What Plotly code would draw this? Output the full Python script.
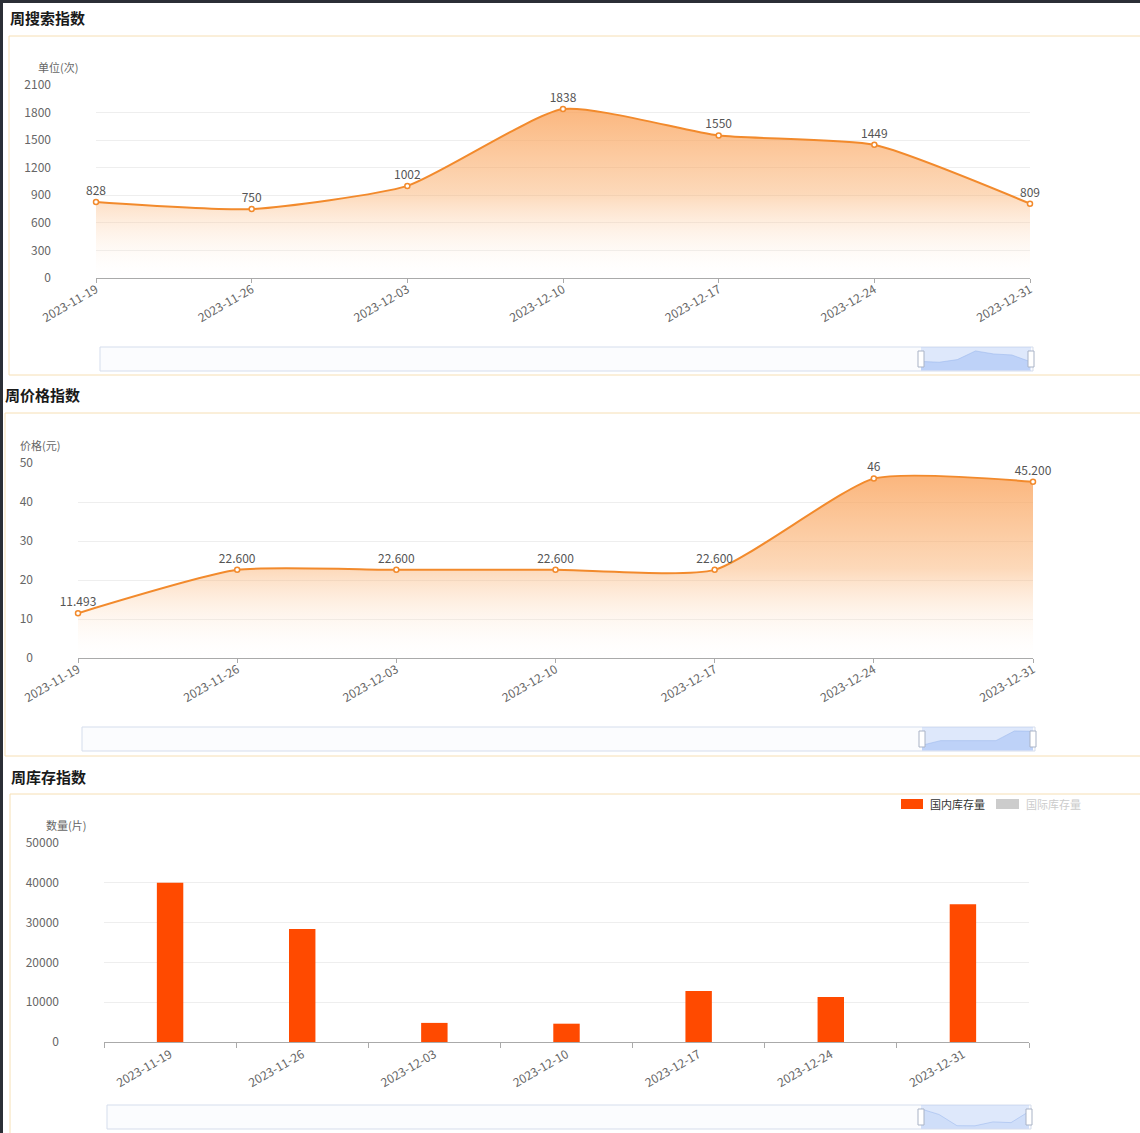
import plotly.graph_objects as go

W, H = 1140, 1133

dates = ["2023-11-19", "2023-11-26", "2023-12-03", "2023-12-10",
         "2023-12-17", "2023-12-24", "2023-12-31"]
search_values = [828, 750, 1002, 1838, 1550, 1449, 809]
search_labels = ["828", "750", "1002", "1838", "1550", "1449", "809"]
price_values = [11.493, 22.6, 22.6, 22.6, 22.6, 46, 45.2]
price_labels = ["11.493", "22.600", "22.600", "22.600", "22.600", "46", "45.200"]
domestic_stock = [40000, 28400, 4800, 4600, 12800, 11300, 34600]

titles = ["周搜索指数", "周价格指数", "周库存指数"]
y_titles = ["单位(次)", "价格(元)", "数量(片)"]
legend_names = ["国内库存量", "国际库存量"]

LINE = "#f28a2c"
BAR = "#ff4a00"
FONT = "Noto Sans CJK SC, Noto Sans, sans-serif"
SMOOTH = 0.55


def px(x):
    return x / W


def py(y):
    return 1 - y / H


fig = go.Figure()

fill_scale = [[0, "rgba(255,255,255,0.05)"], [0.5, "rgba(250,170,100,0.45)"],
              [1, "rgba(250,165,95,0.8)"]]

# ---------- chart 1: search ----------
fig.add_trace(go.Scatter(
    x=dates, y=search_values, text=search_labels, mode="lines+markers+text",
    textposition="top center", textfont=dict(size=12, color="#555", family=FONT),
    line=dict(color=LINE, width=2, shape="spline", smoothing=SMOOTH),
    marker=dict(size=5, color="white", line=dict(color=LINE, width=1.5)),
    fill="tozeroy",
    fillgradient=dict(type="vertical", start=0, stop=max(search_values), colorscale=fill_scale),
    cliponaxis=False, xaxis="x", yaxis="y", showlegend=False, hoverinfo="x+y"))

# ---------- chart 2: price ----------
fig.add_trace(go.Scatter(
    x=dates, y=price_values, text=price_labels, mode="lines+markers+text",
    textposition="top center", textfont=dict(size=12, color="#555", family=FONT),
    line=dict(color=LINE, width=2, shape="spline", smoothing=SMOOTH),
    marker=dict(size=5, color="white", line=dict(color=LINE, width=1.5)),
    fill="tozeroy",
    fillgradient=dict(type="vertical", start=0, stop=max(price_values), colorscale=fill_scale),
    cliponaxis=False, xaxis="x2", yaxis="y2", showlegend=False, hoverinfo="x+y"))

# ---------- chart 3: stock bars ----------
fig.add_trace(go.Bar(
    x=dates, y=domestic_stock, marker=dict(color=BAR, line=dict(width=0)),
    width=0.2, xaxis="x3", yaxis="y3", showlegend=False, name=legend_names[0]))

# ---------- datazoom minis ----------
mini_specs = [
    (search_values, "x4", "y4", 0.45),
    (price_values, "x5", "y5", 0.45),
    (domestic_stock, "x6", "y6", 0.2),
]
for vals, xa, ya, op in mini_specs:
    fig.add_trace(go.Scatter(
        x=dates, y=vals, mode="lines", fill="tozeroy",
        line=dict(color="rgba(150,180,235,0.5)", width=1),
        fillcolor="rgba(150,185,245,%s)" % op,
        xaxis=xa, yaxis=ya, showlegend=False, hoverinfo="skip"))

tickfont = dict(size=12, color="#666", family=FONT)


def xcat(domain, anchor, rng, boundaries=False, standoff=0):
    d = dict(domain=domain, anchor=anchor, type="category", range=rng,
             showgrid=False, showline=True, linecolor="#aaa", linewidth=1,
             ticks="outside", ticklen=4, tickcolor="#aaa", tickangle=-30,
             tickfont=tickfont, zeroline=False, fixedrange=True, automargin=False,
             ticklabelstandoff=standoff)
    if boundaries:
        d["tickson"] = "boundaries"
        d["ticklen"] = 5
    return d


def yval(domain, anchor, rng, dtick, standoff):
    return dict(domain=domain, anchor=anchor, range=rng, dtick=dtick, tickformat="d",
                showgrid=True, gridcolor="#eeeeee", gridwidth=1,
                showline=False, zeroline=False, tickfont=tickfont, ticks="",
                ticklabelstandoff=standoff, fixedrange=True, automargin=False)


def mini_x(domain, anchor):
    return dict(domain=domain, anchor=anchor, type="category", range=[0, 6],
                visible=False, fixedrange=True, automargin=False)


def mini_y(domain, anchor, rng):
    return dict(domain=domain, anchor=anchor, range=rng, visible=False,
                fixedrange=True, automargin=False)


layout = dict(
    template="none",
    width=W, height=H, margin=dict(l=0, r=0, t=0, b=0, pad=0, autoexpand=False),
    paper_bgcolor="white", plot_bgcolor="rgba(0,0,0,0)",
    font=dict(family=FONT, color="#555"),
    showlegend=False,
    xaxis=xcat([px(96), px(1030)], "y", [0, 6], standoff=-5),
    yaxis=yval([py(278), py(85)], "x", [0, 2100], 300, 44),
    xaxis2=xcat([px(78), px(1033)], "y2", [0, 6], standoff=-5),
    yaxis2=yval([py(658), py(463)], "x2", [0, 50], 10, 44),
    xaxis3=xcat([px(104), px(1029)], "y3", [-0.5, 6.5], boundaries=True),
    yaxis3=yval([py(1042), py(843)], "x3", [0, 50000], 10000, 44),
    xaxis4=mini_x([px(921), px(1030)], "y4"),
    yaxis4=mini_y([py(370), py(350)], "x4", [0, max(search_values) * 1.05]),
    xaxis5=mini_x([px(922), px(1033)], "y5"),
    yaxis5=mini_y([py(750), py(730)], "x5", [0, max(price_values) * 1.05]),
    xaxis6=mini_x([px(921), px(1029)], "y6"),
    yaxis6=mini_y([py(1128), py(1108)], "x6", [0, max(domestic_stock) * 1.05]),
)
fig.update_layout(**layout)

shapes = []
# dark page edges
shapes.append(dict(type="rect", xref="paper", yref="paper", x0=0, x1=px(3), y0=0, y1=1,
                   fillcolor="#2b2f36", line=dict(width=0), layer="above"))
shapes.append(dict(type="rect", xref="paper", yref="paper", x0=0, x1=1, y0=py(3), y1=1,
                   fillcolor="#2b2f36", line=dict(width=0), layer="above"))
# panel borders
for x0, y0, y1 in [(9, 36, 375), (5, 413, 756), (10, 794, 1140)]:
    shapes.append(dict(type="rect", xref="paper", yref="paper",
                       x0=px(x0), x1=px(1145), y0=py(y1), y1=py(y0),
                       line=dict(color="#f6dfb4", width=1), fillcolor="rgba(0,0,0,0)",
                       layer="below"))
# datazoom boxes
for x0, x1, y0, y1, w0 in [(100, 1033, 347, 371, 921), (82, 1035, 727, 751, 922),
                           (107, 1031, 1105, 1129, 921)]:
    shapes.append(dict(type="rect", xref="paper", yref="paper",
                       x0=px(x0), x1=px(x1), y0=py(y1), y1=py(y0),
                       line=dict(color="#d5ddec", width=1), fillcolor="#fbfcfe",
                       layer="below"))
    shapes.append(dict(type="rect", xref="paper", yref="paper",
                       x0=px(w0), x1=px(x1 - 2), y0=py(y1), y1=py(y0),
                       line=dict(width=0), fillcolor="rgba(170,195,245,0.35)",
                       layer="below"))
    cy = (y0 + y1) / 2
    for hx in (w0, x1 - 2):
        shapes.append(dict(type="rect", xref="paper", yref="paper",
                           x0=px(hx - 3), x1=px(hx + 3), y0=py(cy + 8), y1=py(cy - 8),
                           line=dict(color="#a9b3c6", width=1), fillcolor="white",
                           layer="above"))
# legend swatches
shapes.append(dict(type="rect", xref="paper", yref="paper", x0=px(901), x1=px(923),
                   y0=py(809), y1=py(799), fillcolor=BAR, line=dict(width=0)))
shapes.append(dict(type="rect", xref="paper", yref="paper", x0=px(996), x1=px(1019),
                   y0=py(809), y1=py(799), fillcolor="#cccccc", line=dict(width=0)))

annotations = []
for t, x, y in zip(titles, [8, 3, 9], [17, 395, 776]):
    annotations.append(dict(text="<b>" + t + "</b>", x=px(x), y=py(y), xref="paper", yref="paper",
                            xanchor="left", yanchor="middle", showarrow=False,
                            font=dict(size=15, color="#1a1a1a", family=FONT)))
for t, x, y in zip(y_titles, [58, 40, 66], [67, 445, 825]):
    annotations.append(dict(text=t, x=px(x), y=py(y), xref="paper", yref="paper",
                            xanchor="center", yanchor="middle", showarrow=False,
                            font=dict(size=11, color="#666", family=FONT)))
annotations.append(dict(text=legend_names[0], x=px(928), y=py(804), xref="paper", yref="paper",
                        xanchor="left", yanchor="middle", showarrow=False,
                        font=dict(size=11, color="#333", family=FONT)))
annotations.append(dict(text=legend_names[1], x=px(1024), y=py(804), xref="paper", yref="paper",
                        xanchor="left", yanchor="middle", showarrow=False,
                        font=dict(size=11, color="#cccccc", family=FONT)))

fig.update_layout(shapes=shapes, annotations=annotations)
fig.write_html("out.html", config={"displayModeBar": False},
               post_script="document.body.style.margin='0';document.body.style.overflow='hidden';")
